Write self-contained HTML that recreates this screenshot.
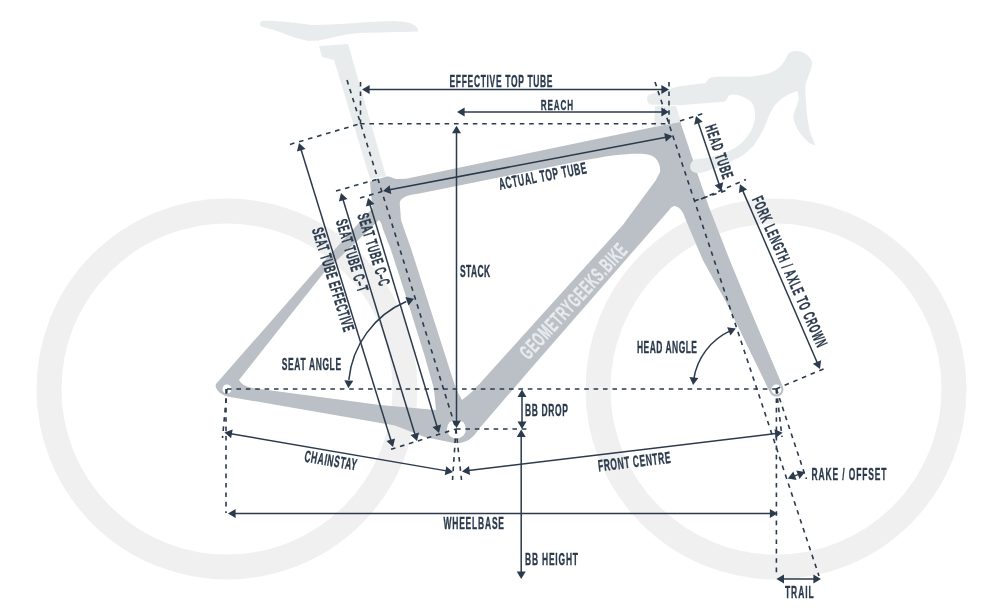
<!DOCTYPE html>
<html><head><meta charset="utf-8"><style>
html,body{margin:0;padding:0;background:#fff;width:1000px;height:610px;overflow:hidden}
svg{display:block;will-change:transform}
text{font-family:"Liberation Sans",sans-serif}
</style></head><body>
<svg width="1000" height="610" viewBox="0 0 1000 610">
<circle cx="227" cy="389" r="178" fill="none" stroke="#f0f0f0" stroke-width="25"/>
<circle cx="776" cy="389" r="178" fill="none" stroke="#f0f0f0" stroke-width="25"/>
<path d="M262,21 C275,20 295,23 312,25 C335,25 360,22 390,21 C402,21 410,22 414,25 C417,27 418.5,29 418,31.5 C400,32 375,32.5 360,33 C345,34 335,37 326,39 C318,41 310,41.5 304,40 C295,38 282,33 274,30 C268,28 262,27.5 260.5,25.5 C259.5,23.5 260,21.5 262,21 Z" fill="#e9eced"/>
<path d="M319,46 L348,44 L386,176 L370,179 L334,60 L322,57 Z" fill="#e9eced"/>
<path d="M370,181.8 L386.4,176.6 C391,176 393,179.2 398,179 L406,178.7 L654,127.1 L680.2,121.7 L699.6,180 L708.7,206.2 L729.7,260 L747,302 L782.9,386.8 A7,7 0 0 1 769.9,392.2 L726,302 L702.8,260 L685,218 C683,211 679,206 674,206 C671,207 670,209 669,210.2 L534,365 L478,430 C472,440 464,444 454,443 L424.5,437 L395,425.5 L300,409 L230,397 C220,395.5 214,388 216,384 L315.9,270 L372.4,208.3 Z M239,380 L286.4,320 L324.1,272.5 L379,220 C381,222 382,225 382.5,228 L391,250 L409,305.7 L424.5,355.6 L434,389 L436,410 L380,405 L320,397 L260,389 C250,388 242,386 239,380 Z M399.7,203 C400,199 405,195 419.4,193.5 L580,161 C615,154 640,152 650,155 C657,157 661,165 660,172 L656,180 L622.8,225 L582.3,270 L540,316.8 L482,381 C476,388 468,396 462,400 L456,389 L411.5,250 L401,220 Z" fill="#bbc0c6" fill-rule="evenodd"/>
<path d="M647,99 C647,96 648.5,94.3 651,94 L679.3,86.2 L705.6,83 C707,81 708,78.5 711,77.5 L718.7,76.4 L748.8,76.7 C760,75.5 768,74 772,72 C779,69 784,63 786.5,57 C788,52.5 792,51 797,51 C803,51.5 810,55 812,62 C812.5,68 808,76 806,83 C804.5,90 806,100 806.5,108 C807,118 809,130 812,137 L815.3,145.5 C811,144.5 808,142.5 805,139 C799,133 795,126 793.5,118 C793,112 797,107 798.5,100 C799,96 798.5,93 797,91 C791,93 785,96 780,100 C775,104 771,110 768,118 C766,124 764,128 762,132 C759,138 756,142 753.4,146 C748,151 744,155 738.7,157.8 C732,161 726,164 719.5,166.7 C713,169 707,171 701.8,172.6 C697,174 692,172.5 690.5,169 C689.5,165 691.5,160 696,159.3 C702,158.5 707,158 712,157 C719,155 725,153 731.3,150 C738,146 742,143 746,138 C750,133 752.5,129 753.4,125 C755,120 755.5,116 754.9,112 C754,106 752,102 749,100.3 C745,97 740,95 734.2,94.4 C731,94.3 729.5,94.8 728.3,96 C727,99 726,101.5 724,101.8 L679.3,105.2 L652,104.8 C649,104.6 647,102 647,99 Z" fill="#e9eced"/>
<path d="M655,106 L676,106 L681,121.7 L654,127 Z" fill="#e9eced"/>
<circle cx="227" cy="389" r="4.5" fill="#fff"/>
<circle cx="776.4" cy="389.5" r="5" fill="#fff"/>
<circle cx="456.4" cy="429" r="9.5" fill="#fff"/>
<text transform="translate(573.00,301.00) rotate(-47.50) scale(0.55,1)" x="0.72" y="7.25" text-anchor="middle" font-size="20.64" font-weight="bold" fill="#e8ebee" stroke="#e8ebee" stroke-width="0.3" vector-effect="non-scaling-stroke" letter-spacing="1.44" >GEOMETRYGEEKS.BIKE</text>
<line x1="360.00" y1="123.80" x2="670.00" y2="123.80" stroke="#2b3a4c" stroke-width="1.6" stroke-dasharray="4.6 4.8" stroke-dashoffset="0"/>
<line x1="227.00" y1="389.00" x2="776.00" y2="389.00" stroke="#2b3a4c" stroke-width="1.6" stroke-dasharray="4.6 4.8" stroke-dashoffset="0"/>
<line x1="456.00" y1="429.00" x2="528.00" y2="429.00" stroke="#2b3a4c" stroke-width="1.6" stroke-dasharray="4.6 4.8" stroke-dashoffset="0"/>
<line x1="360.50" y1="82.00" x2="360.50" y2="124.00" stroke="#2b3a4c" stroke-width="1.6" stroke-dasharray="4.6 4.8" stroke-dashoffset="0"/>
<line x1="669.00" y1="82.00" x2="669.00" y2="124.00" stroke="#2b3a4c" stroke-width="1.6" stroke-dasharray="4.6 4.8" stroke-dashoffset="0"/>
<line x1="226.00" y1="389.00" x2="226.00" y2="513.00" stroke="#2b3a4c" stroke-width="1.6" stroke-dasharray="4.6 4.8" stroke-dashoffset="0"/>
<line x1="776.40" y1="389.00" x2="776.40" y2="577.00" stroke="#2b3a4c" stroke-width="1.6" stroke-dasharray="4.6 4.8" stroke-dashoffset="0"/>
<line x1="347.00" y1="80.00" x2="456.00" y2="429.00" stroke="#2b3a4c" stroke-width="1.6" stroke-dasharray="4.6 4.8" stroke-dashoffset="0"/>
<line x1="655.00" y1="82.00" x2="819.00" y2="576.00" stroke="#2b3a4c" stroke-width="1.6" stroke-dasharray="4.6 4.8" stroke-dashoffset="0"/>
<line x1="368.60" y1="89.40" x2="662.40" y2="89.40" stroke="#2b3a4c" stroke-width="1.5"/>
<polygon points="362.00,89.40 369.60,84.90 369.60,93.90" fill="#2b3a4c"/>
<polygon points="669.00,89.40 661.40,93.90 661.40,84.90" fill="#2b3a4c"/>
<text transform="translate(501.00,81.25) rotate(0.00) scale(0.52,1)" x="0.66" y="5.75" text-anchor="middle" font-size="16.28" font-weight="bold" fill="#2b3a4c" stroke="#2b3a4c" stroke-width="0.3" vector-effect="non-scaling-stroke" letter-spacing="1.31" >EFFECTIVE TOP TUBE</text>
<line x1="463.60" y1="111.90" x2="662.40" y2="111.90" stroke="#2b3a4c" stroke-width="1.5"/>
<polygon points="457.00,111.90 464.60,107.40 464.60,116.40" fill="#2b3a4c"/>
<polygon points="669.00,111.90 661.40,116.40 661.40,107.40" fill="#2b3a4c"/>
<text transform="translate(556.90,104.00) rotate(0.00) scale(0.52,1)" x="0.85" y="5.50" text-anchor="middle" font-size="15.55" font-weight="bold" fill="#2b3a4c" stroke="#2b3a4c" stroke-width="0.3" vector-effect="non-scaling-stroke" letter-spacing="1.70" >REACH</text>
<line x1="456.50" y1="132.30" x2="456.50" y2="421.40" stroke="#2b3a4c" stroke-width="1.5"/>
<polygon points="456.50,125.70 461.00,133.30 452.00,133.30" fill="#2b3a4c"/>
<polygon points="456.50,428.00 452.00,420.40 461.00,420.40" fill="#2b3a4c"/>
<text transform="translate(475.00,271.70) rotate(0.00) scale(0.52,1)" x="0.35" y="5.75" text-anchor="middle" font-size="16.28" font-weight="bold" fill="#2b3a4c" stroke="#2b3a4c" stroke-width="0.3" vector-effect="non-scaling-stroke" letter-spacing="0.71" >STACK</text>
<line x1="389.48" y1="189.77" x2="666.02" y2="137.23" stroke="#2b3a4c" stroke-width="1.5"/>
<polygon points="383.00,191.00 389.63,185.16 391.31,194.00" fill="#2b3a4c"/>
<polygon points="672.50,136.00 665.87,141.84 664.19,133.00" fill="#2b3a4c"/>
<text transform="translate(542.50,175.80) rotate(-10.80) scale(0.52,1)" x="0.65" y="5.75" text-anchor="middle" font-size="16.28" font-weight="bold" fill="#2b3a4c" stroke="#2b3a4c" stroke-width="0.3" vector-effect="non-scaling-stroke" letter-spacing="1.31" >ACTUAL TOP TUBE</text>
<line x1="680.00" y1="121.00" x2="702.50" y2="113.75" stroke="#2b3a4c" stroke-width="1.6" stroke-dasharray="4.6 4.8" stroke-dashoffset="0"/>
<line x1="694.30" y1="201.00" x2="729.00" y2="189.50" stroke="#2b3a4c" stroke-width="1.6" stroke-dasharray="4.6 4.8" stroke-dashoffset="0"/>
<line x1="701.00" y1="199.00" x2="746.00" y2="179.50" stroke="#2b3a4c" stroke-width="1.6" stroke-dasharray="4.6 4.8" stroke-dashoffset="0"/>
<line x1="698.12" y1="122.25" x2="719.28" y2="184.65" stroke="#2b3a4c" stroke-width="1.5"/>
<polygon points="696.00,116.00 702.70,121.75 694.18,124.64" fill="#2b3a4c"/>
<polygon points="721.40,190.90 714.70,185.15 723.22,182.26" fill="#2b3a4c"/>
<text transform="translate(719.50,151.50) rotate(71.30) scale(0.52,1)" x="0.80" y="5.75" text-anchor="middle" font-size="16.28" font-weight="bold" fill="#2b3a4c" stroke="#2b3a4c" stroke-width="0.3" vector-effect="non-scaling-stroke" letter-spacing="1.59" >HEAD TUBE</text>
<line x1="776.00" y1="389.00" x2="828.00" y2="367.00" stroke="#2b3a4c" stroke-width="1.6" stroke-dasharray="4.6 4.8" stroke-dashoffset="0"/>
<line x1="742.62" y1="190.36" x2="817.38" y2="362.94" stroke="#2b3a4c" stroke-width="1.5"/>
<polygon points="740.00,184.30 747.15,189.49 738.89,193.06" fill="#2b3a4c"/>
<polygon points="820.00,369.00 812.85,363.81 821.11,360.24" fill="#2b3a4c"/>
<text transform="translate(789.80,271.50) rotate(66.20) scale(0.52,1)" x="0.86" y="5.75" text-anchor="middle" font-size="16.28" font-weight="bold" fill="#2b3a4c" stroke="#2b3a4c" stroke-width="0.3" vector-effect="non-scaling-stroke" letter-spacing="1.73" >FORK LENGTH / AXLE TO CROWN</text>
<line x1="290.00" y1="144.40" x2="360.60" y2="123.60" stroke="#2b3a4c" stroke-width="1.6" stroke-dasharray="4.6 4.8" stroke-dashoffset="0"/>
<line x1="300.95" y1="149.31" x2="391.05" y2="440.69" stroke="#2b3a4c" stroke-width="1.5"/>
<polygon points="299.00,143.00 305.54,148.93 296.95,151.59" fill="#2b3a4c"/>
<polygon points="393.00,447.00 386.46,441.07 395.05,438.41" fill="#2b3a4c"/>
<line x1="391.00" y1="449.30" x2="456.00" y2="429.00" stroke="#2b3a4c" stroke-width="1.6" stroke-dasharray="4.6 4.8" stroke-dashoffset="0"/>
<line x1="336.00" y1="191.00" x2="378.00" y2="179.00" stroke="#2b3a4c" stroke-width="1.6" stroke-dasharray="4.6 4.8" stroke-dashoffset="0"/>
<line x1="342.93" y1="199.31" x2="415.07" y2="434.69" stroke="#2b3a4c" stroke-width="1.5"/>
<polygon points="341.00,193.00 347.53,198.95 338.92,201.58" fill="#2b3a4c"/>
<polygon points="417.00,441.00 410.47,435.05 419.08,432.42" fill="#2b3a4c"/>
<line x1="360.00" y1="198.00" x2="382.00" y2="191.60" stroke="#2b3a4c" stroke-width="1.6" stroke-dasharray="4.6 4.8" stroke-dashoffset="0"/>
<line x1="369.91" y1="204.32" x2="437.09" y2="426.68" stroke="#2b3a4c" stroke-width="1.5"/>
<polygon points="368.00,198.00 374.51,203.97 365.89,206.58" fill="#2b3a4c"/>
<polygon points="439.00,433.00 432.49,427.03 441.11,424.42" fill="#2b3a4c"/>
<text transform="translate(333.40,279.50) rotate(72.70) scale(0.52,1)" x="0.63" y="5.75" text-anchor="middle" font-size="16.28" font-weight="bold" fill="#2b3a4c" stroke="#2b3a4c" stroke-width="0.3" vector-effect="non-scaling-stroke" letter-spacing="1.25" >SEAT TUBE EFFECTIVE</text>
<text transform="translate(352.30,255.40) rotate(72.70) scale(0.52,1)" x="0.75" y="5.75" text-anchor="middle" font-size="16.28" font-weight="bold" fill="#2b3a4c" stroke="#2b3a4c" stroke-width="0.3" vector-effect="non-scaling-stroke" letter-spacing="1.49" >SEAT TUBE C–T</text>
<text transform="translate(374.00,249.40) rotate(72.70) scale(0.52,1)" x="0.67" y="5.75" text-anchor="middle" font-size="16.28" font-weight="bold" fill="#2b3a4c" stroke="#2b3a4c" stroke-width="0.3" vector-effect="non-scaling-stroke" letter-spacing="1.34" >SEAT TUBE C–C</text>
<path d="M348.84,379.89 A95,95 0 0 1 406.28,301.55" fill="none" stroke="#2b3a4c" stroke-width="1.5"/>
<polygon points="348.40,388.17 344.31,380.35 353.30,380.82" fill="#2b3a4c"/>
<polygon points="414.04,298.65 408.50,305.53 405.35,297.10" fill="#2b3a4c"/>
<text transform="translate(311.40,364.70) rotate(0.00) scale(0.52,1)" x="0.61" y="5.75" text-anchor="middle" font-size="16.28" font-weight="bold" fill="#2b3a4c" stroke="#2b3a4c" stroke-width="0.3" vector-effect="non-scaling-stroke" letter-spacing="1.21" >SEAT ANGLE</text>
<path d="M693.70,379.54 A64,64 0 0 1 730.66,330.67" fill="none" stroke="#2b3a4c" stroke-width="1.5"/>
<polygon points="693.12,385.09 689.44,377.06 698.39,378.00" fill="#2b3a4c"/>
<polygon points="735.85,328.60 730.46,335.60 727.12,327.24" fill="#2b3a4c"/>
<text transform="translate(667.00,347.50) rotate(0.00) scale(0.52,1)" x="0.46" y="5.75" text-anchor="middle" font-size="16.28" font-weight="bold" fill="#2b3a4c" stroke="#2b3a4c" stroke-width="0.3" vector-effect="non-scaling-stroke" letter-spacing="0.93" >HEAD ANGLE</text>
<line x1="522.00" y1="396.10" x2="522.00" y2="422.40" stroke="#2b3a4c" stroke-width="1.5"/>
<polygon points="522.00,389.50 526.50,397.10 517.50,397.10" fill="#2b3a4c"/>
<polygon points="522.00,429.00 517.50,421.40 526.50,421.40" fill="#2b3a4c"/>
<text transform="translate(546.50,410.00) rotate(0.00) scale(0.52,1)" x="0.64" y="5.75" text-anchor="middle" font-size="16.28" font-weight="bold" fill="#2b3a4c" stroke="#2b3a4c" stroke-width="0.3" vector-effect="non-scaling-stroke" letter-spacing="1.27" >BB DROP</text>
<line x1="521.20" y1="436.10" x2="521.20" y2="572.40" stroke="#2b3a4c" stroke-width="1.5"/>
<polygon points="521.20,429.50 525.70,437.10 516.70,437.10" fill="#2b3a4c"/>
<polygon points="521.20,579.00 516.70,571.40 525.70,571.40" fill="#2b3a4c"/>
<text transform="translate(551.50,559.00) rotate(0.00) scale(0.52,1)" x="0.77" y="5.75" text-anchor="middle" font-size="16.28" font-weight="bold" fill="#2b3a4c" stroke="#2b3a4c" stroke-width="0.3" vector-effect="non-scaling-stroke" letter-spacing="1.55" >BB HEIGHT</text>
<line x1="234.60" y1="513.50" x2="770.90" y2="513.50" stroke="#2b3a4c" stroke-width="1.5"/>
<polygon points="228.00,513.50 235.60,509.00 235.60,518.00" fill="#2b3a4c"/>
<polygon points="777.50,513.50 769.90,518.00 769.90,509.00" fill="#2b3a4c"/>
<text transform="translate(473.70,523.50) rotate(0.00) scale(0.52,1)" x="0.78" y="5.75" text-anchor="middle" font-size="16.28" font-weight="bold" fill="#2b3a4c" stroke="#2b3a4c" stroke-width="0.3" vector-effect="non-scaling-stroke" letter-spacing="1.57" >WHEELBASE</text>
<line x1="227.00" y1="389.00" x2="222.50" y2="438.00" stroke="#2b3a4c" stroke-width="1.6" stroke-dasharray="4.6 4.8" stroke-dashoffset="0"/>
<line x1="456.00" y1="429.00" x2="452.50" y2="480.00" stroke="#2b3a4c" stroke-width="1.6" stroke-dasharray="4.6 4.8" stroke-dashoffset="0"/>
<line x1="230.90" y1="433.72" x2="446.50" y2="470.88" stroke="#2b3a4c" stroke-width="1.5"/>
<polygon points="224.40,432.60 232.65,429.46 231.13,438.33" fill="#2b3a4c"/>
<polygon points="453.00,472.00 444.75,475.14 446.27,466.27" fill="#2b3a4c"/>
<text transform="translate(330.80,460.30) rotate(9.80) scale(0.52,1)" x="0.60" y="5.75" text-anchor="middle" font-size="16.28" font-weight="bold" fill="#2b3a4c" stroke="#2b3a4c" stroke-width="0.3" vector-effect="non-scaling-stroke" letter-spacing="1.21" >CHAINSTAY</text>
<line x1="456.00" y1="429.00" x2="461.50" y2="480.00" stroke="#2b3a4c" stroke-width="1.6" stroke-dasharray="4.6 4.8" stroke-dashoffset="0"/>
<line x1="776.40" y1="389.00" x2="782.00" y2="437.00" stroke="#2b3a4c" stroke-width="1.6" stroke-dasharray="4.6 4.8" stroke-dashoffset="0"/>
<line x1="468.55" y1="470.61" x2="776.05" y2="433.49" stroke="#2b3a4c" stroke-width="1.5"/>
<polygon points="462.00,471.40 469.01,466.02 470.08,474.96" fill="#2b3a4c"/>
<polygon points="782.60,432.70 775.59,438.08 774.52,429.14" fill="#2b3a4c"/>
<text transform="translate(634.20,461.40) rotate(-6.90) scale(0.52,1)" x="0.58" y="5.75" text-anchor="middle" font-size="16.28" font-weight="bold" fill="#2b3a4c" stroke="#2b3a4c" stroke-width="0.3" vector-effect="non-scaling-stroke" letter-spacing="1.17" >FRONT CENTRE</text>
<line x1="776.40" y1="389.00" x2="805.00" y2="475.00" stroke="#2b3a4c" stroke-width="1.6" stroke-dasharray="4.6 4.8" stroke-dashoffset="0"/>
<line x1="793.97" y1="476.17" x2="798.83" y2="474.33" stroke="#2b3a4c" stroke-width="1.5"/>
<polygon points="787.80,478.50 793.32,471.60 796.50,480.02" fill="#2b3a4c"/>
<polygon points="805.00,472.00 799.48,478.90 796.30,470.48" fill="#2b3a4c"/>
<text transform="translate(849.00,474.50) rotate(0.00) scale(0.52,1)" x="0.85" y="5.75" text-anchor="middle" font-size="16.28" font-weight="bold" fill="#2b3a4c" stroke="#2b3a4c" stroke-width="0.3" vector-effect="non-scaling-stroke" letter-spacing="1.69" >RAKE / OFFSET</text>
<circle cx="806.2" cy="478.2" r="0.9" fill="#2b3a4c"/>
<line x1="783.00" y1="579.00" x2="814.40" y2="579.00" stroke="#2b3a4c" stroke-width="1.5"/>
<polygon points="776.40,579.00 784.00,574.50 784.00,583.50" fill="#2b3a4c"/>
<polygon points="821.00,579.00 813.40,583.50 813.40,574.50" fill="#2b3a4c"/>
<text transform="translate(799.30,592.00) rotate(0.00) scale(0.52,1)" x="0.88" y="5.75" text-anchor="middle" font-size="16.28" font-weight="bold" fill="#2b3a4c" stroke="#2b3a4c" stroke-width="0.3" vector-effect="non-scaling-stroke" letter-spacing="1.77" >TRAIL</text>
</svg>
</body></html>
